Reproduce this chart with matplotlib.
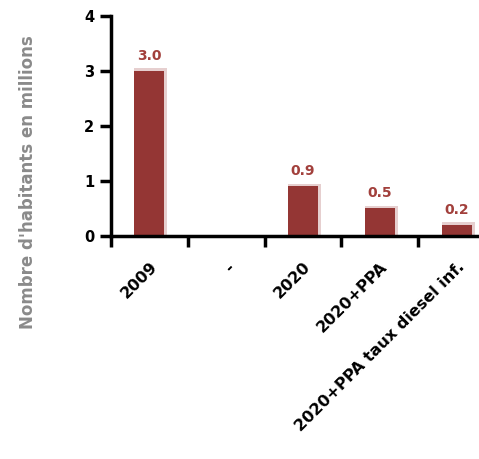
import numpy as np
import matplotlib.pyplot as plt

# Données
categories = ['2009', '-', '2020', '2020+PPA', '2020+PPA taux diesel inf.']
habitants = [3.0, np.nan, 0.9, 0.5, 0.2]
etiquettes = ['3.0', '', '0.9', '0.5', '0.2']

couleur_barre = '#943634'
couleur_ombre = '#e6cfcf'

fig = plt.figure(figsize=(4.79, 4.59), dpi=100)
ax = fig.add_axes([0.2317, 0.486, 0.7683, 0.479])

x = np.arange(len(categories))
largeur = 0.39

# ombre légère derrière chaque barre
ax.bar(x + 0.02, np.array(habitants) + 0.05, width=largeur + 0.04,
       color=couleur_ombre, zorder=1)
ax.bar(x, habitants, width=largeur, color=couleur_barre, zorder=2)

for xi, v, txt in zip(x, habitants, etiquettes):
    if txt:
        ax.text(xi, v + 0.15, txt, ha='center', va='bottom',
                fontsize=10, fontweight='bold', color='#a2403c')

ax.set_xlim(-0.5, 4.29)
ax.set_ylim(0, 4)
ax.set_yticks([0, 1, 2, 3, 4])
ax.set_yticklabels(['0', '1', '2', '3', '4'], fontsize=10.5, fontweight='bold')

# graduations aux frontières des catégories
ax.set_xticks(x)
ax.set_xticklabels(categories, rotation=45, ha='right', va='top',
                   rotation_mode='anchor', fontsize=11.5, fontweight='bold')
ax.set_xticks(np.arange(len(categories)) - 0.5, minor=True)
ax.tick_params(axis='x', which='major', length=0, pad=17)
ax.tick_params(axis='x', which='minor', length=8, width=2.5, direction='out')
ax.tick_params(axis='y', length=8, width=2.5, direction='out', pad=4)

for s in ['top', 'right']:
    ax.spines[s].set_visible(False)
for s in ['left', 'bottom']:
    ax.spines[s].set_linewidth(2.5)

fig.text(28 / 479, 1 - 182 / 459, "Nombre d'habitants en millions",
         rotation=90, ha='center', va='center', fontsize=12,
         fontweight='bold', color='#8a8a8a')

fig.savefig('out.png', dpi=100)
